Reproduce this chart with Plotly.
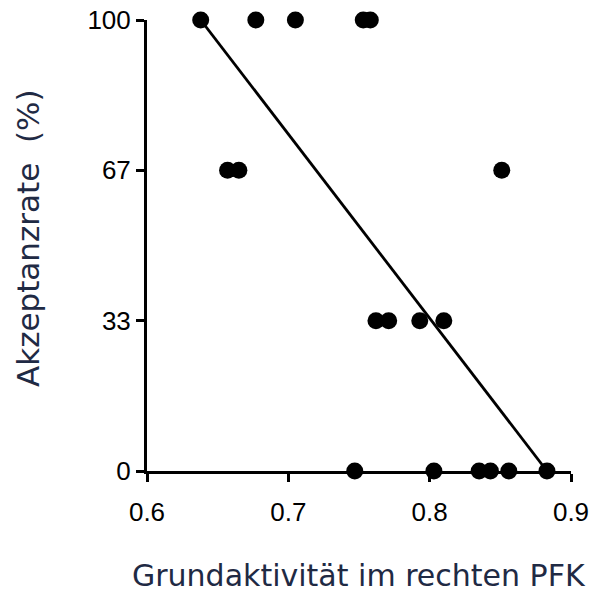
import plotly.graph_objects as go

x_vals = [0.638, 0.677, 0.705, 0.753, 0.758,
          0.657, 0.665, 0.851,
          0.762, 0.771, 0.793, 0.810,
          0.747, 0.803, 0.835, 0.843, 0.856, 0.883]
y_vals = [100, 100, 100, 100, 100,
          66.7, 66.7, 66.7,
          33.3, 33.3, 33.3, 33.3,
          0, 0, 0, 0, 0, 0]

fit_x = [0.638, 0.883]
fit_y = [100, 0]

x_ticks = [0.6, 0.7, 0.8, 0.9]
x_ticklabels = ["0.6", "0.7", "0.8", "0.9"]
y_ticks = [0, 33.3, 66.7, 100]
y_ticklabels = ["0", "33", "67", "100"]

x_title = "Grundaktivität im rechten PFK"
y_title = "Akzeptanzrate\u00a0 (%)"

fig = go.Figure()
fig.add_trace(go.Scatter(x=fit_x, y=fit_y, mode="lines",
                         line=dict(color="black", width=2.8),
                         showlegend=False, cliponaxis=False))
fig.add_trace(go.Scatter(x=x_vals, y=y_vals, mode="markers",
                         marker=dict(color="black", size=17),
                         showlegend=False, cliponaxis=False))

tick_font = dict(family="Liberation Sans, Arial", size=26, color="black")
title_color = "#1f2a44"

fig.update_layout(
    width=593, height=592,
    margin=dict(l=147, r=22, t=20, b=121, pad=0),
    paper_bgcolor="white", plot_bgcolor="white",
    xaxis=dict(range=[0.6, 0.9], tickvals=x_ticks, ticktext=x_ticklabels,
               automargin=False,
               showgrid=False, zeroline=False, showline=True,
               linecolor="black", linewidth=3,
               ticks="outside", ticklen=8, tickwidth=3, tickcolor="black",
               ticklabelstandoff=8,
               tickfont=tick_font),
    yaxis=dict(range=[0, 100], tickvals=y_ticks, ticktext=y_ticklabels,
               automargin=False,
               showgrid=False, zeroline=False, showline=True,
               linecolor="black", linewidth=3,
               ticks="outside", ticklen=8, tickwidth=3, tickcolor="black",
               tickfont=tick_font),
    annotations=[
        dict(text=x_title, xref="paper", yref="paper", x=0.5, y=-0.2306,
             xanchor="center", yanchor="middle", showarrow=False,
             font=dict(family="DejaVu Sans, Verdana", size=30, color=title_color)),
        dict(text=y_title, xref="paper", yref="paper", x=-0.2807, y=0.5166,
             xanchor="center", yanchor="middle", showarrow=False, textangle=-90,
             font=dict(family="DejaVu Sans, Verdana", size=31, color=title_color)),
    ],
)

fig.write_html("out.html")
